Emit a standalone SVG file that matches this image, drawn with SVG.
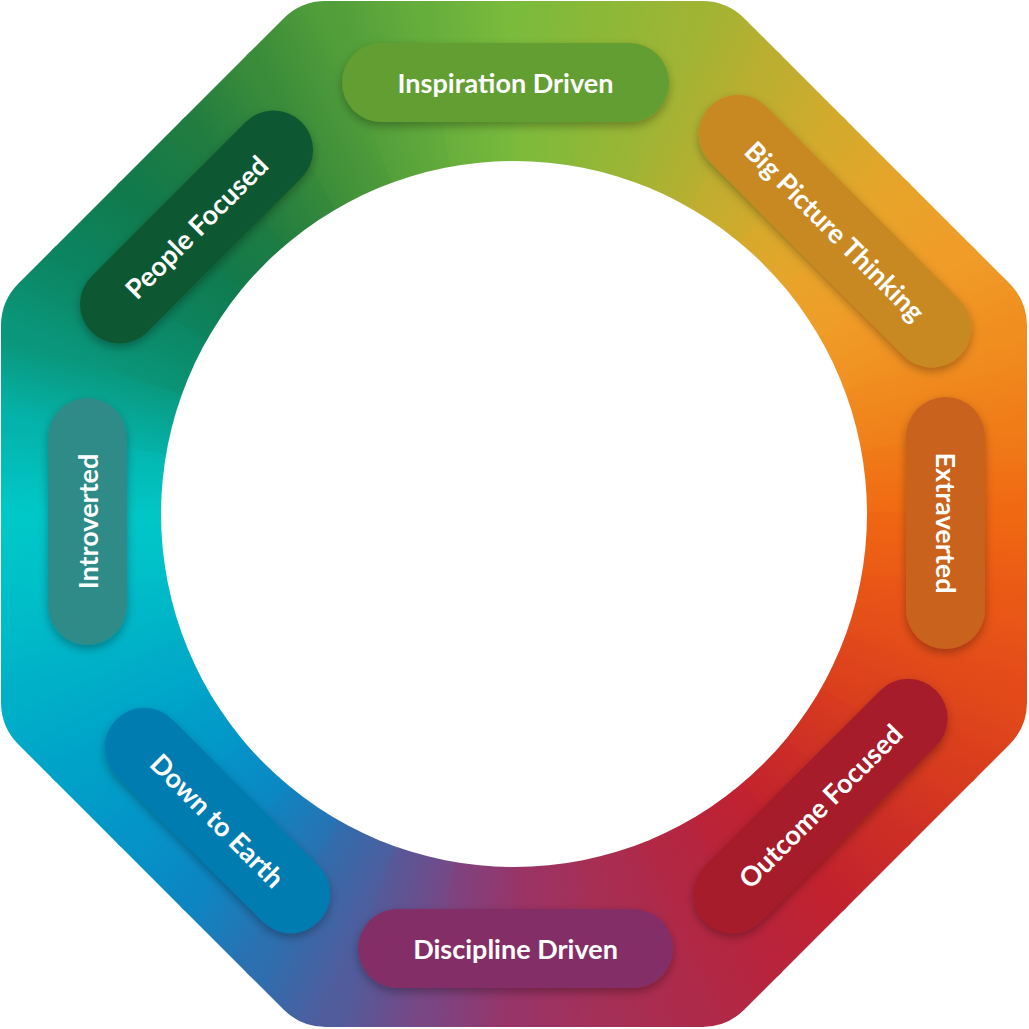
<svg xmlns="http://www.w3.org/2000/svg" xmlns:xlink="http://www.w3.org/1999/xlink" width="1029" height="1029" viewBox="0 0 1029 1029">
<style>
.lbl{font-family:Lato,"Liberation Sans",sans-serif;font-weight:700;font-size:27px;fill:#fff;text-anchor:middle}
</style>
<defs>
<clipPath id="oct"><path d="M326,1 H702 A60,60 0 0 1 744.7,18.7 L1009.3,283.3 A60,60 0 0 1 1027,326 V702 A60,60 0 0 1 1009.3,744.7 L744.7,1009.3 A60,60 0 0 1 702,1027 H326 A60,60 0 0 1 283.3,1009.3 L18.7,744.7 A60,60 0 0 1 1,702 V326 A60,60 0 0 1 18.7,283.3 L283.3,18.7 A60,60 0 0 1 326,1 Z"/></clipPath>
<path id="w" d="M0,0 L-56,-600 L56,-600 Z"/>
<linearGradient id="gb" gradientUnits="userSpaceOnUse" x1="-39.2" y1="-448.3" x2="39.2" y2="-448.3"/>
<linearGradient id="g0" xlink:href="#gb"><stop offset="0" stop-color="#7bbb3c"/><stop offset="1" stop-color="#8cb838"/></linearGradient>
<linearGradient id="g1" xlink:href="#gb"><stop offset="0" stop-color="#8cb838"/><stop offset="1" stop-color="#a0b434"/></linearGradient>
<linearGradient id="g2" xlink:href="#gb"><stop offset="0" stop-color="#a0b434"/><stop offset="1" stop-color="#bcae30"/></linearGradient>
<linearGradient id="g3" xlink:href="#gb"><stop offset="0" stop-color="#bcae30"/><stop offset="1" stop-color="#d4aa2c"/></linearGradient>
<linearGradient id="g4" xlink:href="#gb"><stop offset="0" stop-color="#d4aa2c"/><stop offset="1" stop-color="#e8a42a"/></linearGradient>
<linearGradient id="g5" xlink:href="#gb"><stop offset="0" stop-color="#e8a42a"/><stop offset="1" stop-color="#f09c28"/></linearGradient>
<linearGradient id="g6" xlink:href="#gb"><stop offset="0" stop-color="#f09c28"/><stop offset="1" stop-color="#f08e20"/></linearGradient>
<linearGradient id="g7" xlink:href="#gb"><stop offset="0" stop-color="#f08e20"/><stop offset="1" stop-color="#f07c18"/></linearGradient>
<linearGradient id="g8" xlink:href="#gb"><stop offset="0" stop-color="#f07c18"/><stop offset="1" stop-color="#f06812"/></linearGradient>
<linearGradient id="g9" xlink:href="#gb"><stop offset="0" stop-color="#f06812"/><stop offset="1" stop-color="#ea5816"/></linearGradient>
<linearGradient id="g10" xlink:href="#gb"><stop offset="0" stop-color="#ea5816"/><stop offset="1" stop-color="#e24a1a"/></linearGradient>
<linearGradient id="g11" xlink:href="#gb"><stop offset="0" stop-color="#e24a1a"/><stop offset="1" stop-color="#d83c1e"/></linearGradient>
<linearGradient id="g12" xlink:href="#gb"><stop offset="0" stop-color="#d83c1e"/><stop offset="1" stop-color="#cc2e26"/></linearGradient>
<linearGradient id="g13" xlink:href="#gb"><stop offset="0" stop-color="#cc2e26"/><stop offset="1" stop-color="#c2222e"/></linearGradient>
<linearGradient id="g14" xlink:href="#gb"><stop offset="0" stop-color="#c2222e"/><stop offset="1" stop-color="#b8243c"/></linearGradient>
<linearGradient id="g15" xlink:href="#gb"><stop offset="0" stop-color="#b8243c"/><stop offset="1" stop-color="#ae2a4a"/></linearGradient>
<linearGradient id="g16" xlink:href="#gb"><stop offset="0" stop-color="#ae2a4a"/><stop offset="1" stop-color="#a43058"/></linearGradient>
<linearGradient id="g17" xlink:href="#gb"><stop offset="0" stop-color="#a43058"/><stop offset="1" stop-color="#983468"/></linearGradient>
<linearGradient id="g18" xlink:href="#gb"><stop offset="0" stop-color="#983468"/><stop offset="1" stop-color="#7a4684"/></linearGradient>
<linearGradient id="g19" xlink:href="#gb"><stop offset="0" stop-color="#7a4684"/><stop offset="1" stop-color="#505c9c"/></linearGradient>
<linearGradient id="g20" xlink:href="#gb"><stop offset="0" stop-color="#505c9c"/><stop offset="1" stop-color="#2c70b0"/></linearGradient>
<linearGradient id="g21" xlink:href="#gb"><stop offset="0" stop-color="#2c70b0"/><stop offset="1" stop-color="#0c86c2"/></linearGradient>
<linearGradient id="g22" xlink:href="#gb"><stop offset="0" stop-color="#0c86c2"/><stop offset="1" stop-color="#0494c8"/></linearGradient>
<linearGradient id="g23" xlink:href="#gb"><stop offset="0" stop-color="#0494c8"/><stop offset="1" stop-color="#00a2c8"/></linearGradient>
<linearGradient id="g24" xlink:href="#gb"><stop offset="0" stop-color="#00a2c8"/><stop offset="1" stop-color="#00b0c8"/></linearGradient>
<linearGradient id="g25" xlink:href="#gb"><stop offset="0" stop-color="#00b0c8"/><stop offset="1" stop-color="#00bec8"/></linearGradient>
<linearGradient id="g26" xlink:href="#gb"><stop offset="0" stop-color="#00bec8"/><stop offset="1" stop-color="#00c8c8"/></linearGradient>
<linearGradient id="g27" xlink:href="#gb"><stop offset="0" stop-color="#00c8c8"/><stop offset="1" stop-color="#04b4ac"/></linearGradient>
<linearGradient id="g28" xlink:href="#gb"><stop offset="0" stop-color="#04b4ac"/><stop offset="1" stop-color="#0a967a"/></linearGradient>
<linearGradient id="g29" xlink:href="#gb"><stop offset="0" stop-color="#0a967a"/><stop offset="1" stop-color="#0c8460"/></linearGradient>
<linearGradient id="g30" xlink:href="#gb"><stop offset="0" stop-color="#0c8460"/><stop offset="1" stop-color="#117a4c"/></linearGradient>
<linearGradient id="g31" xlink:href="#gb"><stop offset="0" stop-color="#117a4c"/><stop offset="1" stop-color="#207c40"/></linearGradient>
<linearGradient id="g32" xlink:href="#gb"><stop offset="0" stop-color="#207c40"/><stop offset="1" stop-color="#3a8c3a"/></linearGradient>
<linearGradient id="g33" xlink:href="#gb"><stop offset="0" stop-color="#3a8c3a"/><stop offset="1" stop-color="#529e3a"/></linearGradient>
<linearGradient id="g34" xlink:href="#gb"><stop offset="0" stop-color="#529e3a"/><stop offset="1" stop-color="#66ae3c"/></linearGradient>
<linearGradient id="g35" xlink:href="#gb"><stop offset="0" stop-color="#66ae3c"/><stop offset="1" stop-color="#7bbb3c"/></linearGradient>
<filter id="sh" x="-20%" y="-20%" width="140%" height="140%"><feDropShadow dx="0" dy="4" stdDeviation="5" flood-color="#000" flood-opacity="0.3"/></filter>
</defs>

<g id="ring">
<g clip-path="url(#oct)">
<use xlink:href="#w" fill="url(#g0)" transform="translate(514 514) rotate(5)"/>
<use xlink:href="#w" fill="url(#g1)" transform="translate(514 514) rotate(15)"/>
<use xlink:href="#w" fill="url(#g2)" transform="translate(514 514) rotate(25)"/>
<use xlink:href="#w" fill="url(#g3)" transform="translate(514 514) rotate(35)"/>
<use xlink:href="#w" fill="url(#g4)" transform="translate(514 514) rotate(45)"/>
<use xlink:href="#w" fill="url(#g5)" transform="translate(514 514) rotate(55)"/>
<use xlink:href="#w" fill="url(#g6)" transform="translate(514 514) rotate(65)"/>
<use xlink:href="#w" fill="url(#g7)" transform="translate(514 514) rotate(75)"/>
<use xlink:href="#w" fill="url(#g8)" transform="translate(514 514) rotate(85)"/>
<use xlink:href="#w" fill="url(#g9)" transform="translate(514 514) rotate(95)"/>
<use xlink:href="#w" fill="url(#g10)" transform="translate(514 514) rotate(105)"/>
<use xlink:href="#w" fill="url(#g11)" transform="translate(514 514) rotate(115)"/>
<use xlink:href="#w" fill="url(#g12)" transform="translate(514 514) rotate(125)"/>
<use xlink:href="#w" fill="url(#g13)" transform="translate(514 514) rotate(135)"/>
<use xlink:href="#w" fill="url(#g14)" transform="translate(514 514) rotate(145)"/>
<use xlink:href="#w" fill="url(#g15)" transform="translate(514 514) rotate(155)"/>
<use xlink:href="#w" fill="url(#g16)" transform="translate(514 514) rotate(165)"/>
<use xlink:href="#w" fill="url(#g17)" transform="translate(514 514) rotate(175)"/>
<use xlink:href="#w" fill="url(#g18)" transform="translate(514 514) rotate(185)"/>
<use xlink:href="#w" fill="url(#g19)" transform="translate(514 514) rotate(195)"/>
<use xlink:href="#w" fill="url(#g20)" transform="translate(514 514) rotate(205)"/>
<use xlink:href="#w" fill="url(#g21)" transform="translate(514 514) rotate(215)"/>
<use xlink:href="#w" fill="url(#g22)" transform="translate(514 514) rotate(225)"/>
<use xlink:href="#w" fill="url(#g23)" transform="translate(514 514) rotate(235)"/>
<use xlink:href="#w" fill="url(#g24)" transform="translate(514 514) rotate(245)"/>
<use xlink:href="#w" fill="url(#g25)" transform="translate(514 514) rotate(255)"/>
<use xlink:href="#w" fill="url(#g26)" transform="translate(514 514) rotate(265)"/>
<use xlink:href="#w" fill="url(#g27)" transform="translate(514 514) rotate(275)"/>
<use xlink:href="#w" fill="url(#g28)" transform="translate(514 514) rotate(285)"/>
<use xlink:href="#w" fill="url(#g29)" transform="translate(514 514) rotate(295)"/>
<use xlink:href="#w" fill="url(#g30)" transform="translate(514 514) rotate(305)"/>
<use xlink:href="#w" fill="url(#g31)" transform="translate(514 514) rotate(315)"/>
<use xlink:href="#w" fill="url(#g32)" transform="translate(514 514) rotate(325)"/>
<use xlink:href="#w" fill="url(#g33)" transform="translate(514 514) rotate(335)"/>
<use xlink:href="#w" fill="url(#g34)" transform="translate(514 514) rotate(345)"/>
<use xlink:href="#w" fill="url(#g35)" transform="translate(514 514) rotate(355)"/>
</g>
<circle cx="514" cy="514" r="353" fill="#fff"/>
</g>

<g id="inspiration-driven">
<g filter="url(#sh)"><rect x="-163.5" y="-39.5" width="327" height="79" rx="39.5" fill="#629e30" transform="translate(505.5 82.5)"/></g>
<text class="lbl" x="0" y="10" transform="translate(505.5 82.5)">Inspiration Driven</text>
</g>

<g id="big-picture-thinking">
<g filter="url(#sh)"><rect x="-176.5" y="-39.5" width="353" height="79" rx="39.5" fill="#c98924" transform="translate(835 231) rotate(45)"/></g>
<text class="lbl" x="0" y="10" transform="translate(835 231) rotate(45)">Big Picture Thinking</text>
</g>

<g id="extraverted">
<g filter="url(#sh)"><rect x="-126" y="-39.5" width="252" height="79" rx="39.5" fill="#c9621f" transform="translate(945.5 523) rotate(90)"/></g>
<text class="lbl" x="0" y="10" transform="translate(945.5 523) rotate(90)">Extraverted</text>
</g>

<g id="outcome-focused">
<g filter="url(#sh)"><rect x="-163.5" y="-39.5" width="327" height="79" rx="39.5" fill="#a71d2a" transform="translate(820.5 806) rotate(-45)"/></g>
<text class="lbl" x="0" y="10" transform="translate(820.5 806) rotate(-45)">Outcome Focused</text>
</g>

<g id="discipline-driven">
<g filter="url(#sh)"><rect x="-157.5" y="-39.5" width="315" height="79" rx="39.5" fill="#842f68" transform="translate(515.5 948.5)"/></g>
<text class="lbl" x="0" y="10" transform="translate(515.5 948.5)">Discipline Driven</text>
</g>

<g id="down-to-earth">
<g filter="url(#sh)"><rect x="-143" y="-39.5" width="286" height="79" rx="39.5" fill="#027bb0" transform="translate(217.5 820.5) rotate(45)"/></g>
<text class="lbl" x="0" y="10" transform="translate(217.5 820.5) rotate(45)">Down to Earth</text>
</g>

<g id="introverted">
<g filter="url(#sh)"><rect x="-123.5" y="-39.5" width="247" height="79" rx="39.5" fill="#2e8b87" transform="translate(87.5 521.5) rotate(-90)"/></g>
<text class="lbl" x="0" y="10" transform="translate(87.5 521.5) rotate(-90)">Introverted</text>
</g>

<g id="people-focused">
<g filter="url(#sh)"><rect x="-148.5" y="-39.5" width="297" height="79" rx="39.5" fill="#0e5830" transform="translate(196.5 227) rotate(-45)"/></g>
<text class="lbl" x="0" y="10" transform="translate(196.5 227) rotate(-45)">People Focused</text>
</g>
</svg>
